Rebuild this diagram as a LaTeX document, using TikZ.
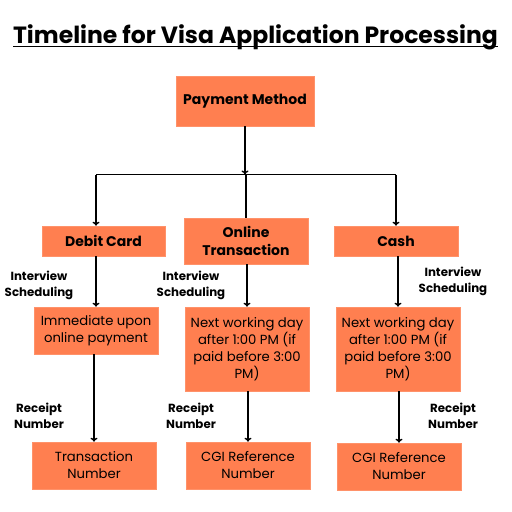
\documentclass[tikz,border=0pt]{standalone}
\usepackage{fontspec}
\setmainfont{Poppins}
\usetikzlibrary{arrows.meta,calc}
\definecolor{boxfill}{RGB}{255,127,80}
\begin{document}
\begin{tikzpicture}[x=1pt,y=-1pt,
  box/.style={fill=boxfill,draw=boxfill!85!white,line width=0.6pt,inner sep=0pt,align=center,text=black},
  hdr/.style={box,font=\bfseries\fontsize{14}{18}\selectfont},
  body/.style={box,font=\fontsize{13.2}{17}\selectfont},
  lab/.style={align=center,font=\bfseries\fontsize{11.8}{16}\selectfont,inner sep=0pt},
  arr/.style={line width=1.4pt,-{To[length=4pt,width=7pt]}},
  ln/.style={line width=1.4pt}]
\useasboundingbox (0,0) rectangle (512,512);
\fill[white] (0,0) rectangle (512,512);
% title
\node[font=\bfseries\fontsize{23.5}{28}\selectfont,anchor=base,inner sep=0pt] (title) at (255.5,43) {Timeline for Visa Application Processing};
\draw[line width=1.6pt] (13,46.5) -- (498,46.5);
% boxes
\node[hdr,minimum width=138pt,minimum height=50pt] (pay) at (245,101) {Payment Method};
\node[hdr,minimum width=123pt,minimum height=30pt] (debit) at (103.5,241) {Debit Card};
\node[hdr,minimum width=124pt,minimum height=46pt] (online) at (246,241) {Online\\Transaction};
\node[hdr,minimum width=124pt,minimum height=30pt] (cash) at (396,241) {Cash};
\node[body,minimum width=124pt,minimum height=47pt] (imm) at (96,330.5) {Immediate upon\\online payment};
\node[body,minimum width=124pt,minimum height=84pt] (nextm) at (247,349) {Next working day\\after 1:00 PM (if\\paid before 3:00\\PM)};
\node[body,minimum width=124pt,minimum height=84pt] (nextr) at (398,349) {Next working day\\after 1:00 PM (if\\paid before 3:00\\PM)};
\node[body,minimum width=124pt,minimum height=47pt] (trans) at (94,465.5) {Transaction\\Number};
\node[body,minimum width=124pt,minimum height=47pt] (cgim) at (248,465.5) {CGI Reference\\Number};
\node[body,minimum width=124pt,minimum height=47pt] (cgir) at (399,466.5) {CGI Reference\\Number};
% connectors
\coordinate (j) at (245,174.5);
\coordinate (jl) at (96,174.5);
\coordinate (jr) at (396,174.5);
\draw[arr] (pay.south) -- (j);
\draw[ln] (jl) -- (jr);
\draw[arr] (jl) -- (jl |- debit.north);
\draw[ln] (online.north |- j) -- (online.north);
\draw[arr] (jr) -- (jr |- cash.north);
\draw[arr] (imm.north |- debit.south) -- (imm.north);
\draw[arr] (nextm.north |- online.south) -- (nextm.north);
\draw[arr] (nextr.north |- cash.south) -- (nextr.north);
\draw[arr] (trans.north |- imm.south) -- (trans.north);
\draw[arr] (cgim.north |- nextm.south) -- (cgim.north);
\draw[arr] (cgir.north |- nextr.south) -- (cgir.north);
% labels
\node[lab] (l1) at (39,285) {Interview\\Scheduling};
\node[lab] (l2) at (191,285) {Interview\\Scheduling};
\node[lab] (l3) at (453,281) {Interview\\Scheduling};
\node[lab] (l4) at (39,416) {Receipt\\Number};
\node[lab] (l5) at (191,416) {Receipt\\Number};
\node[lab] (l6) at (453,416) {Receipt\\Number};
\end{tikzpicture}
\end{document}
